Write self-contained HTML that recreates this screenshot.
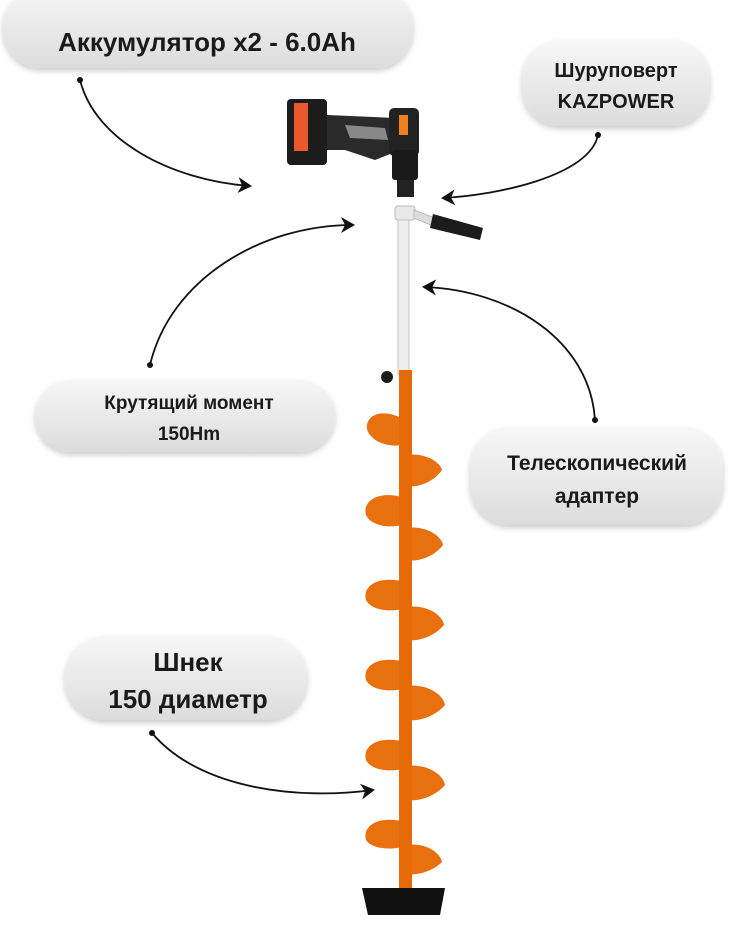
<!DOCTYPE html>
<html><head><meta charset="utf-8"><style>
html,body{margin:0;padding:0;background:#fff;width:738px;height:927px;overflow:hidden}
svg text{font-family:"Liberation Sans","DejaVu Sans",sans-serif;font-weight:bold;fill:#1a1a1a;text-anchor:middle}
</style></head><body>
<svg width="738" height="927" viewBox="0 0 738 927" xmlns="http://www.w3.org/2000/svg">
<defs>
<linearGradient id="g" x1="0" y1="0" x2="0" y2="1">
<stop offset="0" stop-color="#f7f7f7"/><stop offset="1" stop-color="#dcdcdc"/></linearGradient>
<filter id="s" x="-20%" y="-30%" width="140%" height="170%"><feDropShadow dx="0" dy="3" stdDeviation="3" flood-color="#000" flood-opacity="0.2"/></filter>
<marker id="a" markerWidth="18" markerHeight="18" refX="12" refY="9" orient="auto" markerUnits="userSpaceOnUse"><path d="M0,1 L14,9 L0,17 L4,9 Z" fill="#111"/></marker>
</defs>
<rect x="3" y="-12" width="410" height="80" rx="38" fill="url(#g)" filter="url(#s)"/>
<text x="207" y="51" font-size="26">Аккумулятор x2 - 6.0Ah</text>
<rect x="522" y="40" width="188" height="86" rx="38" fill="url(#g)" filter="url(#s)"/>
<text x="616" y="77" font-size="20">Шуруповерт</text>
<text x="616" y="108" font-size="20">KAZPOWER</text>
<rect x="35" y="380" width="300" height="72" rx="36" fill="url(#g)" filter="url(#s)"/>
<text x="189" y="409" font-size="19">Крутящий момент</text>
<text x="189" y="440" font-size="19">150Hm</text>
<rect x="470" y="427" width="253" height="98" rx="40" fill="url(#g)" filter="url(#s)"/>
<text x="597" y="470" font-size="21">Телескопический</text>
<text x="597" y="503" font-size="21">адаптер</text>
<rect x="65" y="636" width="242" height="84" rx="40" fill="url(#g)" filter="url(#s)"/>
<text x="188" y="671" font-size="26">Шнек</text>
<text x="188" y="708" font-size="26">150 диаметр</text>
<g fill="none" stroke="#111" stroke-width="1.8" marker-end="url(#a)">
<path d="M80,80 C95,140 170,180 250,186"/>
<path d="M598,135 C590,175 500,195 443,198"/>
<path d="M150,365 C170,280 260,225 353,225"/>
<path d="M595,420 C590,340 510,290 424,287"/>
<path d="M152,733 C200,790 300,800 373,790"/>
</g>
<g fill="#111"><circle cx="80" cy="80" r="3"/><circle cx="598" cy="135" r="3"/><circle cx="150" cy="365" r="3"/><circle cx="595" cy="420" r="3"/><circle cx="152" cy="733" r="3"/></g>
<rect x="287" y="99" width="40" height="66" rx="4" fill="#1c1c1c"/>
<rect x="294" y="103" width="14" height="48" fill="#e8582a"/>
<path d="M327,115 L395,118 L400,150 L375,160 L345,150 L327,150 Z" fill="#2a2a2a"/>
<path d="M345,125 L385,128 L388,140 L350,138 Z" fill="#888"/>
<rect x="389" y="108" width="30" height="48" rx="5" fill="#222"/>
<rect x="399" y="115" width="9" height="20" fill="#f08020"/>
<rect x="392" y="150" width="26" height="30" rx="3" fill="#1a1a1a"/>
<rect x="397" y="180" width="17" height="17" fill="#222"/>
<rect x="395" y="206" width="20" height="14" rx="3" fill="#e8e8e8" stroke="#bbb"/>
<path d="M414,210 L435,218 L433,226 L414,218 Z" fill="#ddd" stroke="#bbb"/>
<path d="M433,214 L483,228 L480,240 L430,228 Z" fill="#1c1c1c"/>
<rect x="398" y="220" width="11" height="155" fill="#eeeeee" stroke="#c4c4c4"/>
<circle cx="387" cy="377" r="6" fill="#1a1a1a"/>
<g fill="#e8700e">
<path d="M405,420 C380,405 362,418 368,432 C375,445 395,448 405,444 Z"/>
<path d="M405,455 C425,452 440,462 442,470 C432,484 415,488 405,486 Z"/>
<path d="M405,498 C380,490 362,500 366,515 C372,528 395,528 405,524 Z"/>
<path d="M405,528 C425,525 441,535 443,545 C432,559 415,562 405,560 Z"/>
<path d="M405,582 C380,575 362,585 366,600 C372,612 395,612 405,608 Z"/>
<path d="M405,607 C426,604 442,614 444,625 C433,638 415,642 405,640 Z"/>
<path d="M405,662 C380,655 362,665 366,680 C372,692 395,692 405,688 Z"/>
<path d="M405,686 C426,683 443,694 445,705 C434,718 415,722 405,720 Z"/>
<path d="M405,742 C380,735 362,745 366,760 C372,772 395,772 405,768 Z"/>
<path d="M405,766 C426,763 443,774 445,785 C434,798 415,802 405,800 Z"/>
<path d="M405,822 C380,815 362,825 366,840 C372,850 395,850 405,846 Z"/>
<path d="M405,845 C425,842 440,852 442,862 C432,872 415,876 405,874 Z"/>
</g>
<rect x="399" y="370" width="13" height="520" fill="#e66a08"/>
<path d="M362,888 L445,888 L440,915 L368,915 Z" fill="#111"/>
</svg>
</body></html>
